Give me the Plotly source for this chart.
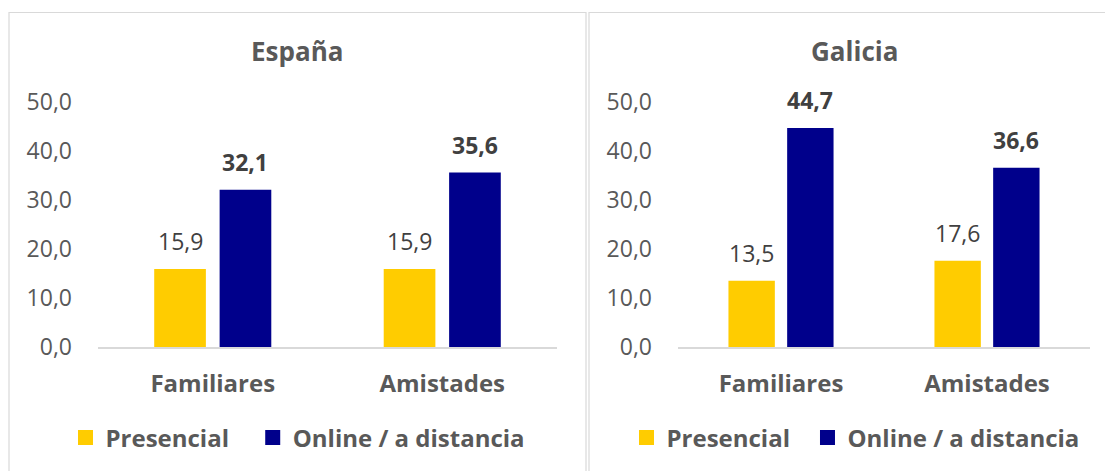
import plotly.graph_objects as go

W, H = 1105, 471

categories = ["Familiares", "Amistades"]
series_names = ["Presencial", "Online / a distancia"]
panel_titles = ["España", "Galicia"]
espana_presencial = [15.9, 15.9]
espana_online = [32.1, 35.6]
galicia_presencial = [13.5, 17.6]
galicia_online = [44.7, 36.6]
y_ticks = [0, 10, 20, 30, 40, 50]
y_tick_labels = ["0,0", "10,0", "20,0", "30,0", "40,0", "50,0"]

YELLOW = "#FFCC00"
BLUE = "#00008B"
GRAY = "#595959"
LABEL = "#404040"
BORDER = "#D9D9D9"
FONT = "Open Sans"

BARGAP = 0.43
BARGROUPGAP = 0.21

def px_x(p):
    return p / W

def px_y(p):
    return 1 - p / H

fig = go.Figure()

panels = [
    dict(data=[espana_presencial, espana_online], xaxis="x", yaxis="y", legend="legend",
         xdom=[px_x(98), px_x(557)], title_x=297, legend_x=298, pad="\u00a0\u00a0\u00a0"),
    dict(data=[galicia_presencial, galicia_online], xaxis="x2", yaxis="y2", legend="legend2",
         xdom=[px_x(678), px_x(1090)], title_x=854, legend_x=855.5, pad="\u00a0\u00a0"),
]

colors = [YELLOW, BLUE]
annotations = []
for pi, p in enumerate(panels):
    for si, vals in enumerate(p["data"]):
        fig.add_trace(go.Bar(
            x=categories, y=vals, name=series_names[si], showlegend=False,
            marker=dict(color=colors[si], line=dict(width=0)),
            xaxis=p["xaxis"], yaxis=p["yaxis"],
            hovertemplate="%{x}: %{y:.1f}<extra>" + series_names[si] + "</extra>",
        ))
        offset = (1 - BARGAP) / 4 * (1 if si == 1 else -1)
        for ci, v in enumerate(vals):
            label = f"{v:.1f}".replace(".", ",")
            annotations.append(dict(
                x=ci + offset, y=v, xref=p["xaxis"], yref=p["yaxis"],
                text=f"<b>{label}</b>" if si == 1 else label,
                showarrow=False, yanchor="bottom", xanchor="center", yshift=10,
                font=dict(family=FONT, size=23, color=LABEL),
            ))
    # legend entries (square swatches like the original)
    for si in range(2):
        fig.add_trace(go.Scatter(
            x=[None], y=[None], mode="markers",
            name=f"<b>{series_names[si]}</b>{p['pad'] if si == 0 else ''}",
            marker=dict(symbol="square", size=15, color=colors[si], line=dict(width=0)),
            xaxis=p["xaxis"], yaxis=p["yaxis"], legend=p["legend"], hoverinfo="skip",
        ))
    annotations.append(dict(
        x=px_x(p["title_x"]), y=px_y(51), xref="paper", yref="paper",
        text=f"<b>{panel_titles[pi]}</b>", showarrow=False,
        xanchor="center", yanchor="middle",
        font=dict(family=FONT, size=26, color=GRAY),
    ))

ydom = [px_y(347), px_y(102)]
axis_common_x = dict(
    type="category", categoryorder="array", categoryarray=categories,
    showline=True, linecolor=BORDER, linewidth=1.5, showgrid=False, zeroline=False,
    ticks="", tickfont=dict(family=FONT, size=24, color=GRAY, weight="bold"),
    ticklabelstandoff=14, fixedrange=True,
)
axis_common_y = dict(
    range=[0, 50], tickvals=y_ticks, ticktext=y_tick_labels, showgrid=False,
    zeroline=False, showline=False, ticks="", ticklabelstandoff=25,
    tickfont=dict(family=FONT, size=23, color=GRAY), fixedrange=True,
)

legend_common = dict(
    orientation="h", yanchor="middle", xanchor="center",
    font=dict(family=FONT, size=24, color=GRAY), bgcolor="rgba(0,0,0,0)",
    itemclick=False, itemdoubleclick=False, tracegroupgap=0, itemsizing="trace",
)

shapes = [
    dict(type="rect", xref="paper", yref="paper", x0=px_x(9), x1=px_x(586),
         y0=-0.2, y1=px_y(12.5), line=dict(color=BORDER, width=1.2), fillcolor="rgba(0,0,0,0)", layer="below"),
    dict(type="rect", xref="paper", yref="paper", x0=px_x(589), x1=1.2,
         y0=-0.2, y1=px_y(12.5), line=dict(color=BORDER, width=1.2), fillcolor="rgba(0,0,0,0)", layer="below"),
]

fig.update_layout(
    width=W, height=H,
    margin=dict(l=0, r=0, t=0, b=0, autoexpand=False),
    paper_bgcolor="white", plot_bgcolor="white",
    barmode="group", bargap=BARGAP, bargroupgap=BARGROUPGAP,
    font=dict(family=FONT, color=GRAY),
    xaxis=dict(domain=panels[0]["xdom"], anchor="y", **axis_common_x),
    yaxis=dict(domain=ydom, anchor="x", **axis_common_y),
    xaxis2=dict(domain=panels[1]["xdom"], anchor="y2", **axis_common_x),
    yaxis2=dict(domain=ydom, anchor="x2", **axis_common_y),
    legend=dict(x=px_x(panels[0]["legend_x"]), y=px_y(438), **legend_common),
    legend2=dict(x=px_x(panels[1]["legend_x"]), y=px_y(438), **legend_common),
    annotations=annotations,
    shapes=shapes,
    showlegend=True,
)

fig.write_html(
    "out.html",
    config={"displayModeBar": False},
    post_script="document.body.style.margin='0';document.body.style.overflow='hidden';",
)
